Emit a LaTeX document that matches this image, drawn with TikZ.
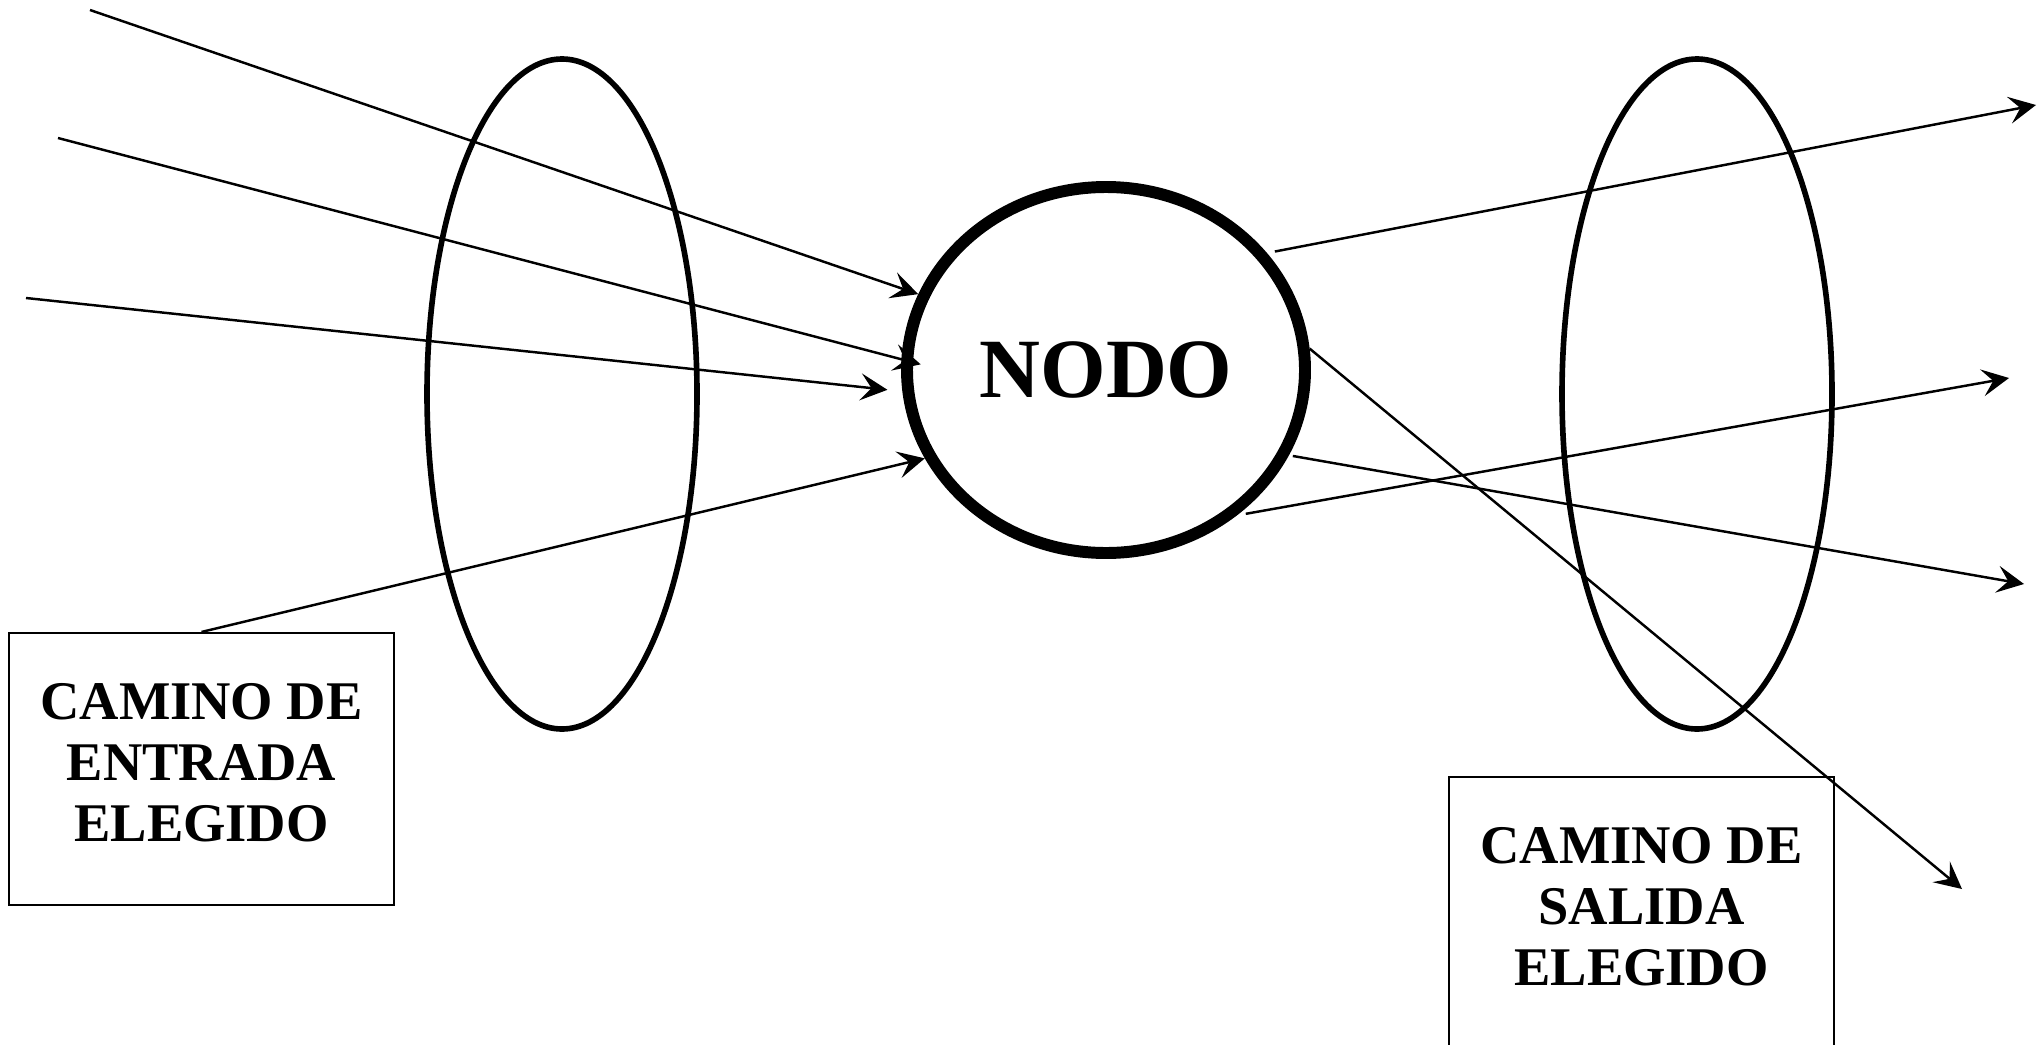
\documentclass[tikz,border=0pt]{standalone}
\usepackage{fontspec}
\setmainfont{Liberation Serif}
\usetikzlibrary{arrows.meta, shapes.geometric}

\begin{document}
\begin{tikzpicture}[
    flecha/.style={line width=0.7pt, -{Stealth[length=2.7mm, width=2.7mm, inset=1.1mm]}},
    camino/.style={draw, line width=0.6pt, minimum width=3.85cm, minimum height=2.72cm,
        inner sep=0pt, align=center, text depth=0.13cm,
        font=\bfseries\fontsize{15.5}{17.4}\selectfont},
    grupo/.style={line width=1.6pt}]
    \useasboundingbox (0,0) rectangle (20.38,-10.45);

    % Node
    \node[ellipse, draw, line width=3.4pt, minimum width=3.98cm, minimum height=3.66cm,
        inner sep=0pt, font=\bfseries\fontsize{24}{28}\selectfont] (nodo) at (11.06,-3.70) {NODO};

    % Groups of paths
    \draw[grupo] (5.62,-3.94) ellipse (1.35cm and 3.35cm);
    \draw[grupo] (16.97,-3.94) ellipse (1.35cm and 3.35cm);

    % Boxes
    \node[camino] (entrada) at (2.015,-7.69) {CAMINO DE\\ENTRADA\\ELEGIDO};
    \node[camino] (salida) at (16.415,-9.13) {CAMINO DE\\SALIDA\\ELEGIDO};

    % Incoming paths
    \coordinate (e1) at (0.90,-0.10);
    \coordinate (e2) at (0.58,-1.38);
    \coordinate (e3) at (0.26,-2.98);
    \draw[flecha] (e1) -- (nodo.158);
    \draw[flecha, shorten >=-2mm] (e2) -- (nodo.177);
    \draw[flecha, shorten >=1.5mm] (e3) -- (nodo.186);
    \draw[flecha] (entrada.north) -- (nodo.206);

    % Outgoing paths
    \coordinate (s1) at (20.36,-1.05);
    \coordinate (s2) at (20.09,-3.78);
    \coordinate (s3) at (20.24,-5.84);
    \coordinate (s4) at (19.62,-8.89);
    \draw[flecha, shorten <=0.8mm] (nodo.36) -- (s1);
    \draw[flecha, shorten <=0.9mm] (nodo.-48) -- (s2);
    \draw[flecha, shorten <=0.4mm] (nodo.-25) -- (s3);
    \draw[flecha] (nodo.6) -- (s4);
\end{tikzpicture}
\end{document}
